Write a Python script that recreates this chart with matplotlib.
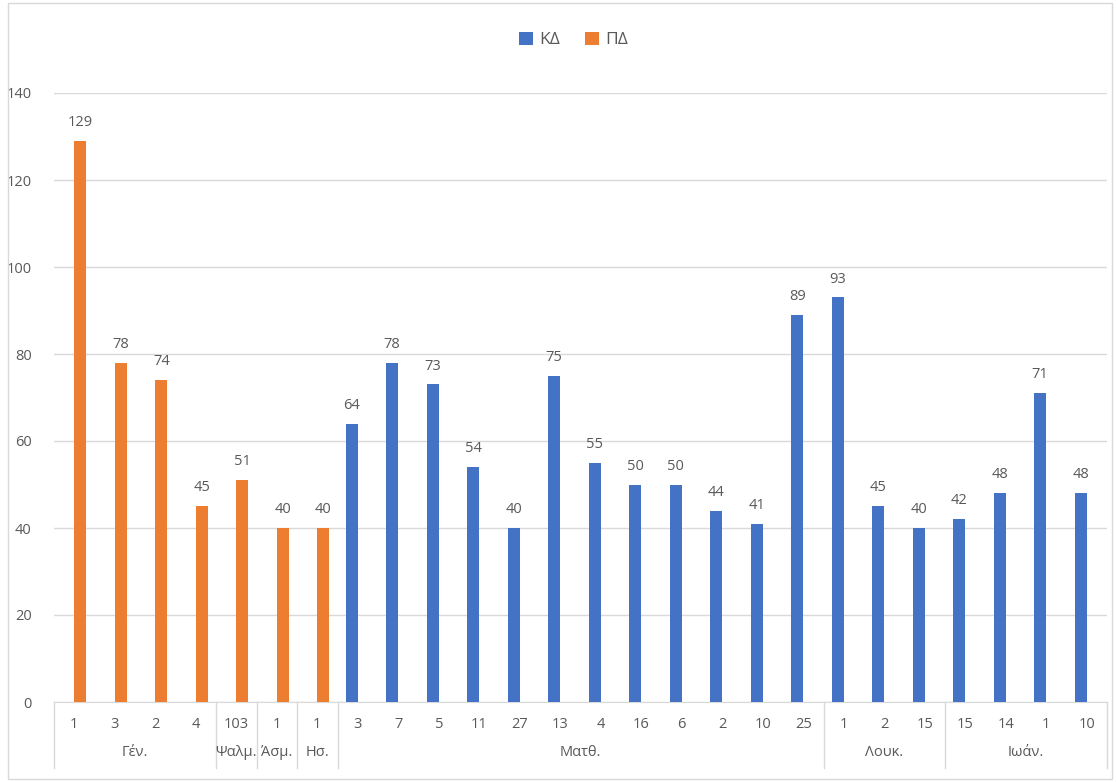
import matplotlib.pyplot as plt
from matplotlib.patches import Rectangle

plt.rcParams['font.family'] = ['Open Sans', 'DejaVu Sans']

# categories (book, chapter) in order
books = ['Γέν.', 'Ψαλμ.', 'Άσμ.', 'Ησ.', 'Ματθ.', 'Λουκ.', 'Ιωάν.']
chapters = [['1', '3', '2', '4'], ['103'], ['1'], ['1'],
            ['3', '7', '5', '11', '27', '13', '4', '16', '6', '2', '10', '25'],
            ['1', '2', '15'], ['15', '14', '1', '10']]
pd_vals = [129, 78, 74, 45, 51, 40, 40]            # ΠΔ (first 7 categories)
kd_vals = [64, 78, 73, 54, 40, 75, 55, 50, 50, 44, 41, 89,
           93, 45, 40, 42, 48, 71, 48]                # ΚΔ (remaining 19)

blue = '#4472C4'
orange = '#ED7D31'
gray = '#595959'
grid = '#D9D9D9'

labels = [c for grp in chapters for c in grp]
n = len(labels)
n_pd = len(pd_vals)

fig = plt.figure(figsize=(11.18, 7.82), dpi=100)
ax = fig.add_axes([54 / 1118, 1 - 702 / 782, (1107 - 54) / 1118, (702 - 93) / 782])

w = 0.3
x_pd = [i + w / 2 for i in range(n_pd)]
x_kd = [i - w / 2 for i in range(n_pd, n)]
b1 = ax.bar(x_kd, kd_vals, width=w, color=blue, label='ΚΔ', zorder=3)
b2 = ax.bar(x_pd, pd_vals, width=w, color=orange, label='ΠΔ', zorder=3)
for bars, vals in ((b1, kd_vals), (b2, pd_vals)):
    for b, v in zip(bars, vals):
        ax.text(b.get_x() + b.get_width() / 2, v + 2.5, str(v), ha='center',
                va='bottom', fontsize=10.5, color=gray)

ax.set_xlim(-0.5, n - 0.5)
ax.set_ylim(0, 140)
ax.set_yticks(range(0, 141, 20))
ax.yaxis.grid(True, color=grid, linewidth=1, zorder=0)
ax.tick_params(axis='y', length=0, pad=16, labelsize=10.5, labelcolor=gray)
ax.set_xticks(range(n))
ax.set_xticklabels(labels)
ax.tick_params(axis='x', length=0, pad=11, labelsize=10.5, labelcolor=gray)
for s in ['left', 'right', 'top']:
    ax.spines[s].set_visible(False)
ax.spines['bottom'].set_color(grid)

# group labels and separators under the axis
tr = ax.get_xaxis_transform()
depth = 66 / 609
start = 0
bounds = [-0.5]
for book, grp in zip(books, chapters):
    mid = start + (len(grp) - 1) / 2
    ax.text(mid, -51 / 609, book, transform=tr, ha='center', va='center',
            fontsize=10.5, color=gray)
    start += len(grp)
    bounds.append(start - 0.5)
for bx in bounds:
    ax.plot([bx, bx], [0, -depth], transform=tr, color=grid, lw=1,
            clip_on=False)

fig.legend(handles=[b1, b2], loc='center', bbox_to_anchor=(0.513, 1 - 40 / 782),
           ncol=2, frameon=False, fontsize=12.5, handlelength=0.8,
           handleheight=0.8, columnspacing=1.4, handletextpad=0.4,
           labelcolor=gray)

fig.patches.append(Rectangle((8 / 1118, 3 / 782), 1104 / 1118, 776 / 782,
                             transform=fig.transFigure, fill=False,
                             edgecolor=grid, lw=1))

plt.savefig('out.png', dpi=100)
plt.close()
